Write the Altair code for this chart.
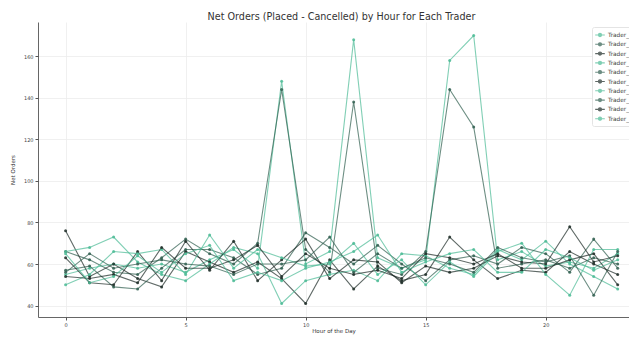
import altair as alt
import pandas as pd

hours = list(range(24))
traders = [f"Trader_{i}" for i in range(1, 11)]

t1 = [55, 58, 60, 58, 60, 56, 62, 67, 58, 148, 60, 66, 168, 63, 58, 62, 158, 170, 62, 66, 59, 61, 58, 65]
t2 = [66, 62, 56, 55, 63, 72, 65, 60, 70, 144, 67, 56, 138, 58, 55, 66, 144, 126, 58, 60, 62, 58, 63, 60]
t3 = [76, 54, 60, 53, 49, 66, 61, 56, 61, 53, 41, 62, 48, 59, 52, 55, 73, 62, 53, 57, 56, 66, 60, 55]
t4 = [66, 68, 73, 61, 55, 52, 60, 68, 65, 41, 52, 55, 57, 52, 65, 64, 58, 55, 67, 62, 71, 60, 54, 48]
t5 = [57, 59, 49, 48, 58, 67, 67, 63, 55, 58, 75, 68, 60, 69, 60, 52, 62, 64, 60, 68, 65, 56, 72, 58]
t6 = [63, 51, 50, 66, 52, 71, 57, 71, 52, 62, 72, 53, 62, 61, 51, 59, 56, 58, 64, 61, 60, 78, 61, 64]
t7 = [50, 55, 66, 65, 67, 55, 74, 58, 67, 63, 59, 60, 70, 55, 62, 50, 61, 54, 66, 70, 55, 45, 67, 67]
t8 = [56, 65, 58, 60, 62, 60, 59, 55, 60, 60, 62, 73, 56, 65, 58, 63, 60, 56, 68, 63, 61, 64, 45, 66]
t9 = [54, 53, 55, 51, 68, 58, 58, 62, 69, 54, 65, 58, 55, 57, 53, 65, 63, 60, 65, 58, 58, 62, 65, 50]
t10 = [65, 51, 54, 64, 56, 65, 69, 52, 56, 52, 58, 61, 66, 74, 56, 61, 65, 67, 56, 56, 67, 63, 57, 62]
series = [t1, t2, t3, t4, t5, t6, t7, t8, t9, t10]

colors = ["#4bbb95", "#2f5e4f", "#1c2b26", "#4bbb95", "#2f5e4f", "#1c2b26",
          "#4bbb95", "#2f5e4f", "#1c2b26", "#4bbb95"]

rows = []
for name, vals in zip(traders, series):
    for h, v in zip(hours, vals):
        rows.append({"Trader": name, "Hour": h, "Net": v})
df = pd.DataFrame(rows)

legend_path = "M-1.2,0L1.2,0M0.4,0A0.4,0.4,0,1,1,-0.4,0A0.4,0.4,0,1,1,0.4,0"

chart = alt.Chart(df).mark_line(
    strokeWidth=1.1, opacity=0.7,
    point=alt.OverlayMarkDef(size=9, filled=True, opacity=0.85)
).encode(
    x=alt.X("Hour:Q", title="Hour of the Day",
            scale=alt.Scale(domain=[-1.15, 23.47], nice=False, zero=False),
            axis=alt.Axis(values=[0, 5, 10, 15, 20], format="d")),
    y=alt.Y("Net:Q", title="Net Orders",
            scale=alt.Scale(domain=[34.5, 176.5], nice=False, zero=False),
            axis=alt.Axis(values=[40, 60, 80, 100, 120, 140, 160])),
    color=alt.Color("Trader:N", sort=traders,
                    scale=alt.Scale(domain=traders, range=colors),
                    legend=alt.Legend(title=None, orient="none", legendX=554, legendY=5,
                                      symbolType=legend_path, symbolSize=64,
                                      symbolStrokeWidth=1.1, labelFontSize=5.8,
                                      labelColor="#444", rowPadding=0.3,
                                      fillColor="white", strokeColor="#e4e4e4",
                                      padding=3, cornerRadius=2, labelOffset=3)),
    order="Hour:Q"
).properties(
    width=591, height=295,
    title=alt.TitleParams("Net Orders (Placed - Cancelled) by Hour for Each Trader",
                          fontSize=9.6, fontWeight="normal", color="#333333",
                          font="DejaVu Sans", offset=0, anchor="middle", dx=8),
    autosize=alt.AutoSizeParams(type="none"),
    padding={"left": 30, "top": 14, "right": 0, "bottom": 18}
).configure_view(stroke=None).configure_axis(
    labelFont="DejaVu Sans", titleFont="DejaVu Sans",
    labelFontSize=5, titleFontSize=5.5, labelColor="#444", titleColor="#333",
    titleFontWeight="normal", gridColor="#ececec", gridWidth=0.8,
    domainColor="#555555", domainWidth=0.9, tickColor="#555555", tickSize=3,
    labelPadding=2
).configure_axisY(titlePadding=8).configure_axisX(titlePadding=1).configure_legend(
    labelFont="DejaVu Sans"
)

chart.save("out.html", embed_options={"renderer": "svg", "actions": False})
